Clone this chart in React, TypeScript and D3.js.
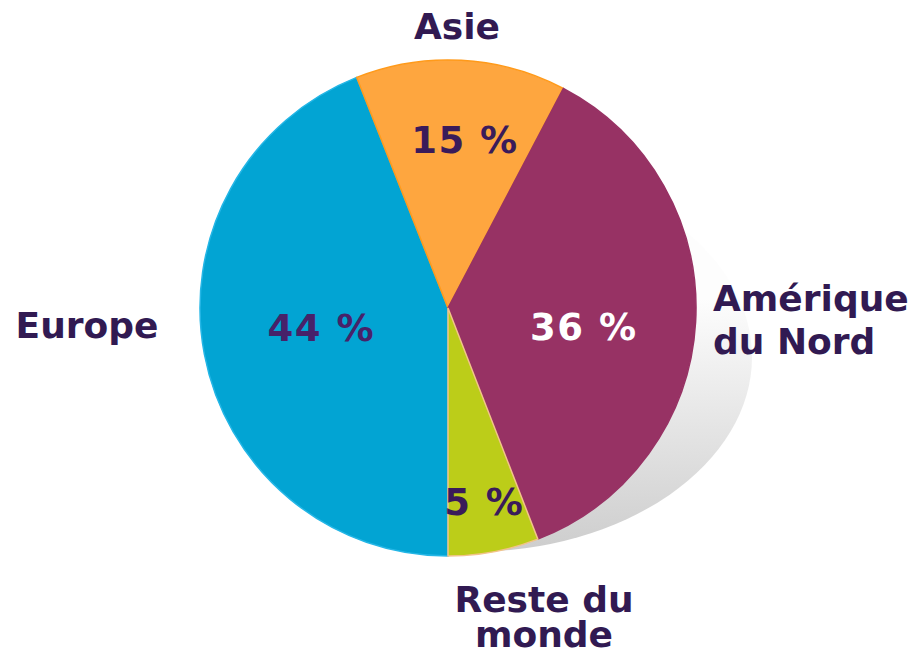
import { useEffect, useRef } from "react";
import * as d3 from "d3";

const regions = ["Europe", "Asie", "Amérique du Nord", "Reste du monde"];
// slice sizes as drawn in the picture (%)
const shares = [44, 13.7, 36.4, 5.9];
// percentages printed on the slices
const printed = [44, 15, 36, 5];
const sliceColors = ["#02a4d3", "#fea63f", "#973264", "#bccd19"];
const sliceEdges = ["#24b6e6", "#ff9a1a", "#973264", "#f2c38a"];
const pctColors = ["#472269", "#3a1b5a", "#ffffff", "#3a1b5a"];

// percentage label: radius along the slice's mid-angle plus a small nudge
const pctRadius = [129, 166, 136, 197];
const pctNudge = [
  [0, -5],
  [8, -3],
  [0, 11],
  [0, 0],
];

// outer labels: lines, anchor, position, line height
const outerLabels: {
  lines: string[];
  x: number;
  y: number;
  anchor: string;
  lh: number;
}[] = [
  { lines: ["Europe"], x: 87, y: 338, anchor: "middle", lh: 0 },
  { lines: ["Asie"], x: 457, y: 39, anchor: "middle", lh: 0 },
  { lines: ["Amérique", "du Nord"], x: 713, y: 311, anchor: "start", lh: 43 },
  { lines: ["Reste du", "monde"], x: 544, y: 612, anchor: "middle", lh: 35 },
];

const width = 920;
const height = 654;
const cx = 448;
const cy = 308;
const radius = 248;
const ink = "#311a52";
const font = "'DejaVu Sans', Verdana, sans-serif";

export default function App() {
  const svgRef = useRef<SVGSVGElement | null>(null);

  useEffect(() => {
    if (!svgRef.current) return;
    const svg = d3.select(svgRef.current);
    svg.selectAll("*").remove();

    const defs = svg.append("defs");
    const grad = defs
      .append("linearGradient")
      .attr("id", "shadowGrad")
      .attr("x1", 0)
      .attr("y1", 0)
      .attr("x2", 0)
      .attr("y2", 1);
    grad.append("stop").attr("offset", "0.35").attr("stop-color", "#fdfdfd");
    grad.append("stop").attr("offset", "1").attr("stop-color", "#cdcdcd");
    defs
      .append("clipPath")
      .attr("id", "shadowClip")
      .append("rect")
      .attr("x", 420)
      .attr("y", 0)
      .attr("width", width)
      .attr("height", height);

    // soft 3D-ish shadow to the lower right
    svg
      .append("ellipse")
      .attr("cx", 470)
      .attr("cy", 357)
      .attr("rx", 282)
      .attr("ry", 195)
      .attr("fill", "url(#shadowGrad)")
      .attr("clip-path", "url(#shadowClip)");

    const rows = regions.map((name, i) => ({ name, value: shares[i], i }));
    type Row = (typeof rows)[number];
    const pie = d3
      .pie<Row>()
      .value((d) => d.value)
      .sort(null)
      .startAngle(Math.PI)
      .endAngle(3 * Math.PI);
    const arcs = pie(rows);
    const arc = d3.arc<d3.PieArcDatum<Row>>().innerRadius(0).outerRadius(radius);

    const g = svg.append("g").attr("transform", `translate(${cx},${cy})`);

    g.selectAll("path.slice")
      .data(arcs)
      .join("path")
      .attr("class", "slice")
      .attr("d", arc)
      .attr("fill", (d) => sliceColors[d.data.i])
      .attr("stroke", (d) => sliceEdges[d.data.i])
      .attr("stroke-width", 1.5);

    g.selectAll("text.pct")
      .data(arcs)
      .join("text")
      .attr("class", "pct")
      .attr("transform", (d) => {
        const r = pctRadius[d.data.i];
        const c = d3.arc<d3.PieArcDatum<Row>>().innerRadius(r).outerRadius(r).centroid(d);
        const [nx, ny] = pctNudge[d.data.i];
        return `translate(${c[0] + nx},${c[1] + ny})`;
      })
      .attr("text-anchor", "middle")
      .attr("dy", "0.36em")
      .attr("font-family", font)
      .attr("font-weight", "bold")
      .attr("font-size", 37)
      .attr("letter-spacing", 1.5)
      .attr("fill", (d) => pctColors[d.data.i])
      .text((d) => `${printed[d.data.i]} %`);

    const labels = svg
      .selectAll("text.region")
      .data(outerLabels)
      .join("text")
      .attr("class", "region")
      .attr("x", (d) => d.x)
      .attr("y", (d) => d.y)
      .attr("text-anchor", (d) => d.anchor)
      .attr("font-family", font)
      .attr("font-weight", "bold")
      .attr("font-size", 36)
      .attr("fill", ink);
    labels
      .selectAll("tspan")
      .data((d) => d.lines.map((line, k) => ({ line, k, x: d.x, lh: d.lh })))
      .join("tspan")
      .attr("x", (d) => d.x)
      .attr("dy", (d) => (d.k === 0 ? 0 : d.lh))
      .text((d) => d.line);
  }, []);

  return (
    <svg
      ref={svgRef}
      width={width}
      height={height}
      viewBox={`0 0 ${width} ${height}`}
      style={{ position: "absolute", left: 0, top: 0, background: "#fff" }}
    />
  );
}
